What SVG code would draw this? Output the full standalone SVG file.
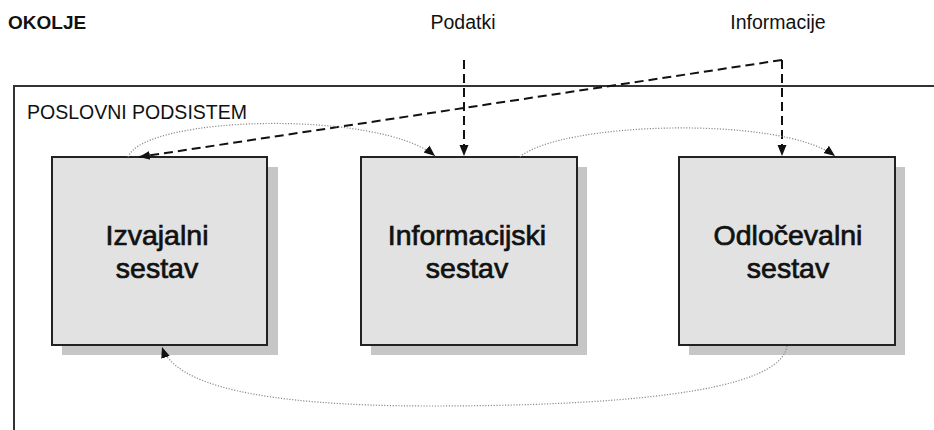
<svg xmlns="http://www.w3.org/2000/svg" width="934" height="430" viewBox="0 0 934 430">
  <style>
    .lbl { font-family: "Liberation Sans", Arial, sans-serif; fill: #111; }
    .small { font-size: 19.5px; }
    .big { font-size: 28.5px; text-anchor: middle; stroke: #111; stroke-width: 0.7; }
    .box { fill: #e2e2e2; stroke: #222; stroke-width: 2; }
    .shadow { fill: #c6c6c6; }
    .dash { fill: none; stroke: #111; stroke-width: 2; stroke-dasharray: 9 5; }
    .dot { fill: none; stroke: #8a8a8a; stroke-width: 1.2; stroke-dasharray: 1.2 1.6; }
  </style>
  <defs>
    <marker id="arr" markerUnits="userSpaceOnUse" markerWidth="12" markerHeight="12" viewBox="0 0 12 12" refX="11" refY="6" orient="auto">
      <path d="M0,1.5 L11,6 L0,10.5 Z" fill="#111"/>
    </marker>
  </defs>
  <rect width="934" height="430" fill="#fff"/>

  <text class="lbl" x="8" y="29" font-size="19" font-weight="bold">OKOLJE</text>
  <text class="lbl small" x="463" y="29" text-anchor="middle">Podatki</text>
  <text class="lbl small" x="778" y="29" text-anchor="middle">Informacije</text>

  <g id="poslovni-podsistem">
    <path d="M940,86 H14 V436" fill="none" stroke="#333" stroke-width="2"/>
    <text class="lbl small" x="27" y="119">POSLOVNI PODSISTEM</text>
  </g>

  <g id="izvajalni">
    <rect class="shadow" x="62" y="167" width="216" height="188"/>
    <rect class="box" x="52" y="157" width="215" height="188"/>
    <text class="lbl big" x="157" y="245">Izvajalni</text>
    <text class="lbl big" x="157" y="278">sestav</text>
  </g>

  <g id="informacijski">
    <rect class="shadow" x="371" y="167" width="216" height="188"/>
    <rect class="box" x="361" y="157" width="216" height="188"/>
    <text class="lbl big" x="467" y="245">Informacijski</text>
    <text class="lbl big" x="467" y="278">sestav</text>
  </g>

  <g id="odlocevalni">
    <rect class="shadow" x="689" y="167" width="216" height="188"/>
    <rect class="box" x="679" y="157" width="216" height="188"/>
    <text class="lbl big" x="788" y="245">Odločevalni</text>
    <text class="lbl big" x="788" y="278">sestav</text>
  </g>

  <g id="connectors">
    <path class="dash" d="M464,60 V156" marker-end="url(#arr)"/>
    <path class="dash" d="M782,60 V156" marker-end="url(#arr)"/>
    <path class="dash" d="M782,60 L139,157" marker-end="url(#arr)"/>
    <path class="dot" d="M128,157 C145,115 380,110 435,156" marker-end="url(#arr)"/>
    <path class="dot" d="M520,157 C560,122 780,115 835,156" marker-end="url(#arr)"/>
    <path class="dot" d="M787,346 C780,395 600,406 430,406 C260,406 175,385 162,347" marker-end="url(#arr)"/>
  </g>
</svg>
